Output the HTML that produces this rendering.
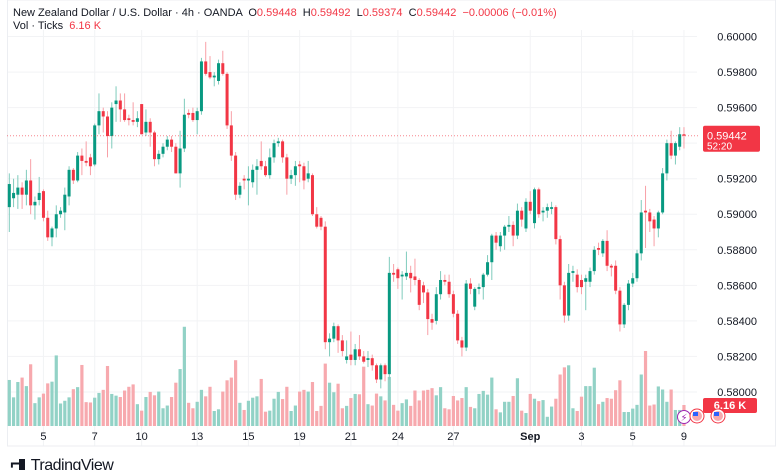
<!DOCTYPE html>
<html><head><meta charset="utf-8"><style>
html,body{margin:0;padding:0;background:#fff;width:780px;height:470px;overflow:hidden;font-family:"Liberation Sans",sans-serif}
#wrap{position:relative;width:780px;height:470px}
.hdr{position:absolute;left:13px;font-size:11px;color:#131722;white-space:nowrap}
.red{color:#f23645}
</style></head><body>
<div id="wrap">
<div class="hdr" style="top:7px">New Zealand Dollar / U.S. Dollar · 4h · OANDA &nbsp;O<span class="red">0.59448</span> &nbsp;H<span class="red">0.59492</span> &nbsp;L<span class="red">0.59374</span> &nbsp;C<span class="red">0.59442</span> &nbsp;<span class="red">−0.00006 (−0.01%)</span></div>
<div class="hdr" style="top:20px">Vol · Ticks &nbsp;<span class="red">6.16 K</span></div>
<svg id="chart" width="780" height="470" style="position:absolute;left:0;top:0"></svg>
<div style="position:absolute;left:9px;top:455px;font-size:16px;font-weight:bold;color:#131722;letter-spacing:-0.5px"><span style="font-family:'DejaVu Sans',sans-serif;font-size:17px">⌐</span><span style="display:inline-block;width:6px;height:12px;background:#131722;vertical-align:-1px;margin:0 6px 0 -4px"></span><span style="font-weight:normal;font-size:16px">TradingView</span></div>
</div>
<script>
const opens=[.5904,.5909,.5911,.5915,.5911,.5919,.5905,.5908,.5913,.5898,.5887,.5892,.5900,.5901,.5910,.5925,.5919,.5933,.5930,.5932,.5928,.5950,.5958,.5955,.5944,.5962,.5964,.5959,.5954,.5953,.5952,.5962,.5946,.5952,.5946,.5931,.5934,.5938,.5942,.5938,.5923,.5937,.5957,.5957,.5953,.5958,.5986,.5980,.5977,.5975,.5985,.5979,.5950,.5933,.5911,.5920,.5919,.5918,.5925,.5930,.5927,.5922,.5932,.5940,.5941,.5932,.5920,.5922,.5928,.5927,.5920,.5922,.5900,.5898,.5893,.5828,.5830,.5837,.5829,.5818,.5821,.5818,.5824,.5820,.5818,.5819,.5815,.5807,.5815,.5810,.5867,.5869,.5865,.5865,.5867,.5865,.5863,.5860,.5856,.5841,.5840,.5855,.5863,.5862,.5855,.5844,.5829,.5825,.5861,.5848,.5858,.5859,.5866,.5873,.5888,.5882,.5888,.5893,.5894,.5888,.5902,.5892,.5907,.5895,.5914,.5901,.5902,.5903,.5904,.5886,.5860,.5843,.5867,.5866,.5863,.5862,.5862,.5868,.5881,.5878,.5885,.5871,.5871,.5857,.5838,.5849,.5861,.5864,.5878,.5902,.5901,.5897,.5892,.5901,.5923,.5940,.5933,.5938,.5945];
const highs=[.5923,.5920,.5922,.5918,.5925,.5931,.5910,.5921,.5914,.5902,.5893,.5905,.5904,.5915,.5927,.5926,.5935,.5937,.5941,.5934,.5951,.5968,.5960,.5958,.5963,.5972,.5968,.5968,.5956,.5963,.5958,.5962,.5959,.5954,.5947,.5936,.5940,.5944,.5944,.5940,.5947,.5965,.5959,.5960,.5960,.5988,.5997,.5989,.5980,.5987,.5992,.5980,.5958,.5935,.5918,.5922,.5927,.5928,.5931,.5941,.5930,.5937,.5942,.5943,.5942,.5934,.5925,.5930,.5930,.5929,.5930,.5923,.5904,.5899,.5896,.5833,.5839,.5838,.5832,.5829,.5834,.5827,.5832,.5823,.5823,.5821,.5816,.5816,.5816,.5876,.5872,.5870,.5868,.5879,.5871,.5875,.5864,.5862,.5858,.5844,.5859,.5868,.5866,.5866,.5857,.5846,.5831,.5863,.5864,.5859,.5861,.5867,.5877,.5889,.5890,.5890,.5894,.5899,.5896,.5906,.5904,.5909,.5913,.5915,.5915,.5904,.5906,.5907,.5905,.5888,.5862,.5872,.5871,.5869,.5866,.5866,.5870,.5882,.5884,.5886,.5891,.5872,.5874,.5859,.5850,.5863,.5867,.5880,.5908,.5916,.5903,.5899,.5902,.5926,.5942,.5947,.5941,.5949,.5949];
const lows=[.5890,.5904,.5903,.5903,.5905,.5900,.5897,.5905,.5896,.5885,.5882,.5887,.5898,.5891,.5905,.5917,.5918,.5922,.5927,.5922,.5927,.5945,.5946,.5932,.5937,.5952,.5952,.5952,.5950,.5950,.5949,.5945,.5944,.5938,.5927,.5928,.5932,.5936,.5935,.5923,.5915,.5935,.5954,.5952,.5945,.5956,.5978,.5976,.5972,.5973,.5978,.5948,.5930,.5908,.5909,.5914,.5905,.5915,.5911,.5925,.5921,.5920,.5929,.5938,.5929,.5911,.5917,.5916,.5918,.5914,.5918,.5899,.5892,.5891,.5824,.5820,.5828,.5822,.5820,.5816,.5815,.5815,.5818,.5816,.5814,.5812,.5805,.5802,.5806,.5807,.5862,.5858,.5852,.5863,.5856,.5860,.5846,.5850,.5832,.5835,.5838,.5852,.5860,.5853,.5842,.5827,.5820,.5823,.5855,.5846,.5855,.5852,.5865,.5863,.5880,.5879,.5880,.5890,.5882,.5886,.5893,.5890,.5900,.5892,.5898,.5896,.5898,.5900,.5883,.5852,.5839,.5840,.5862,.5856,.5855,.5846,.5859,.5866,.5877,.5876,.5868,.5865,.5855,.5834,.5836,.5846,.5859,.5862,.5874,.5881,.5890,.5882,.5887,.5900,.5919,.5931,.5928,.5936,.5937];
const closes=[.5917,.5912,.5915,.5911,.5919,.5905,.5907,.5912,.5898,.5887,.5892,.5900,.5902,.5911,.5925,.5919,.5933,.5930,.5929,.5927,.5950,.5958,.5955,.5944,.5960,.5964,.5959,.5953,.5953,.5952,.5954,.5945,.5952,.5946,.5931,.5934,.5938,.5942,.5938,.5923,.5937,.5956,.5956,.5953,.5958,.5986,.5979,.5977,.5978,.5985,.5979,.5950,.5933,.5911,.5916,.5919,.5920,.5925,.5927,.5927,.5922,.5932,.5940,.5941,.5932,.5920,.5922,.5927,.5927,.5919,.5923,.5900,.5893,.5893,.5828,.5830,.5837,.5829,.5823,.5820,.5818,.5824,.5820,.5817,.5819,.5815,.5807,.5815,.5810,.5867,.5866,.5864,.5866,.5867,.5864,.5863,.5849,.5856,.5841,.5839,.5855,.5863,.5862,.5855,.5844,.5829,.5825,.5861,.5858,.5858,.5859,.5866,.5873,.5888,.5884,.5888,.5893,.5894,.5888,.5902,.5897,.5907,.5902,.5914,.5900,.5902,.5904,.5904,.5886,.5860,.5843,.5867,.5868,.5859,.5859,.5864,.5868,.5880,.5880,.5885,.5871,.5870,.5857,.5838,.5849,.5861,.5864,.5878,.5901,.5901,.5896,.5892,.5901,.5923,.5940,.5933,.5940,.5945,.59442];
const volumes=[13.5,8.4,12.9,14.2,11.7,18.1,6.7,8.4,9.5,12.5,13.0,20.7,6.6,7.4,8.4,10.8,11.4,17.9,7.0,6.9,8.3,9.7,10.6,17.6,9.4,8.9,8.5,10.4,11.5,12.2,6.4,4.5,8.5,10.0,9.0,10.1,5.2,6.0,8.5,12.7,16.7,29.1,6.8,5.2,7.1,10.6,8.7,11.5,4.4,4.9,10.1,13.4,14.2,19.3,6.8,4.7,7.4,8.3,8.7,13.8,4.2,4.5,8.0,10.0,7.9,11.5,4.4,6.0,10.1,10.6,10.1,12.9,4.4,5.9,18.3,12.7,9.9,12.4,5.2,5.9,8.2,9.4,9.3,17.4,6.4,6.0,9.5,8.7,7.5,14.4,6.2,4.5,6.7,7.8,5.9,10.4,7.5,10.4,10.6,11.1,9.0,11.4,5.2,4.9,8.8,7.5,8.2,11.4,5.6,5.2,9.4,10.3,9.2,14.2,4.9,4.0,7.1,7.1,8.8,14.0,4.5,3.8,9.4,8.0,7.3,7.6,2.7,5.7,8.0,15.1,17.2,17.8,5.2,4.4,8.6,11.7,11.7,17.1,6.4,7.1,8.2,8.0,10.5,13.4,4.1,4.1,5.1,6.2,15.1,22.0,6.0,6.3,11.6,10.7,7.1,10.7,4.7,4.7,6.16];
const priceTicks=[0.600,0.598,0.596,0.594,0.592,0.590,0.588,0.586,0.584,0.582,0.580];
const dateLabels=["5","7","10","13","15","19","21","24","27","Sep","3","5","9"];
const dateIndex=[8,20,31,44,56,68,80,91,104,122,134,146,158];
const lastPrice=0.59442, lastVolLabel="6.16 K", countdown="52:20";

const NS="http://www.w3.org/2000/svg";
const svg=document.getElementById('chart');
const X0=9.3, STEP=4.27, P0=0.592, Y0=178.7, PPX=17770, VBASE=426, VPX=3.41;
const xOf=i=>X0+i*STEP;
const yOf=p=>Y0-(p-P0)*PPX;
const vOf=v=>VBASE-v*VPX;
function mk(tag,attrs,parent){const e=document.createElementNS(NS,tag);for(const k in attrs)e.setAttribute(k,attrs[k]);(parent||svg).appendChild(e);return e;}
const G='#089981', R='#f23645';

// frame & grid
const grid=mk('g',{});


priceTicks.forEach(p=>{mk('line',{x1:7,x2:697,y1:yOf(p),y2:yOf(p),stroke:'#f2f3f5','stroke-width':1},grid);});
dateIndex.forEach(i=>{mk('line',{x1:xOf(i),x2:xOf(i),y1:30,y2:446,stroke:'#f2f3f5','stroke-width':1},grid);});
mk('rect',{x:7.5,y:0,width:768,height:446,fill:'none',stroke:'#eceef2','stroke-width':1},grid);

// volumes
const vg=mk('g',{});


volumes.forEach((v,i)=>{
  const up=closes[i]>=opens[i];
  const r=mk('rect',{x:xOf(i)-1.6,y:vOf(v),width:3.2,height:VBASE-vOf(v),fill:up?'#92d2c6':'#f7a9ae'},vg);
  
  
});

// candles
const cg=mk('g',{});


opens.forEach((o,i)=>{
  const c=closes[i], up=c>=o, col=up?G:R;
  const hi=Math.max(highs[i],o,c), lo=Math.min(lows[i],o,c);
  const x=xOf(i);
  const w=mk('line',{x1:x,x2:x,y1:yOf(hi),y2:yOf(lo),stroke:up?'#7fcbbc':'#f8a0a7','stroke-width':1},cg);
  
  
  const yt=yOf(Math.max(o,c)), yb=yOf(Math.min(o,c));
  const b=mk('rect',{x:x-1.5,y:yt,width:3,height:Math.max(1,yb-yt),fill:col},cg);
  
  
});

// last price line
const ly=yOf(lastPrice);
const pl=mk('line',{x1:7,x2:700,y1:ly,y2:ly,stroke:'#f23645','stroke-width':1,'stroke-dasharray':'1 2',opacity:0.6});



// price axis labels
const ax=mk('g',{});


priceTicks.forEach(p=>{
  const t=mk('text',{x:757,y:yOf(p)+4,'text-anchor':'end','font-size':11,fill:'#131722','font-family':'Liberation Sans, sans-serif'},ax);
  t.textContent=p.toFixed(5);
  
  
});
const lb=mk('rect',{x:703,y:ly-10,width:57,height:26,rx:2,fill:'#f23645'});


const lt=mk('text',{x:707,y:ly+4,'font-size':11,fill:'#fff','font-family':'Liberation Sans, sans-serif'});
lt.textContent=lastPrice.toFixed(5);


const ct=mk('text',{x:707,y:ly+14,'font-size':10,fill:'#fff','font-family':'Liberation Sans, sans-serif'});
ct.textContent=countdown;


const vy=vOf(volumes[volumes.length-1]);
const vb=mk('rect',{x:703,y:vy-7,width:54,height:15,rx:2,fill:'#f23645'});


const vt=mk('text',{x:730,y:vy+4,'text-anchor':'middle','font-size':11,'font-weight':'bold',fill:'#fff','font-family':'Liberation Sans, sans-serif'});
vt.textContent=lastVolLabel;



// time axis
const tx=mk('g',{});


dateLabels.forEach((d,k)=>{
  const t=mk('text',{x:xOf(dateIndex[k]),y:440,'text-anchor':'middle','font-size':11,fill:'#131722','font-weight':d==='Sep'?'bold':'normal','font-family':'Liberation Sans, sans-serif'},tx);
  t.textContent=d;
  
  
});

// event icons
const ev=mk('g',{});


mk('circle',{cx:684,cy:417,r:6.5,fill:'#fff',stroke:'#9c27b0','stroke-width':1},ev);
const bolt=mk('text',{x:684,y:421,'text-anchor':'middle','font-size':10,fill:'#9c27b0','font-family':'DejaVu Sans, sans-serif'},ev);
bolt.textContent='⚡';
[697,718].forEach(cx=>{
  mk('circle',{cx:cx,cy:416,r:7,fill:'#fff',stroke:'#f23645','stroke-width':1},ev);
  mk('circle',{cx:cx,cy:416,r:5,fill:'#f7a9ae'},ev);
  mk('rect',{x:cx-4,y:412,width:5,height:4,fill:'#2962ff'},ev);
});
</script>
</body></html>
